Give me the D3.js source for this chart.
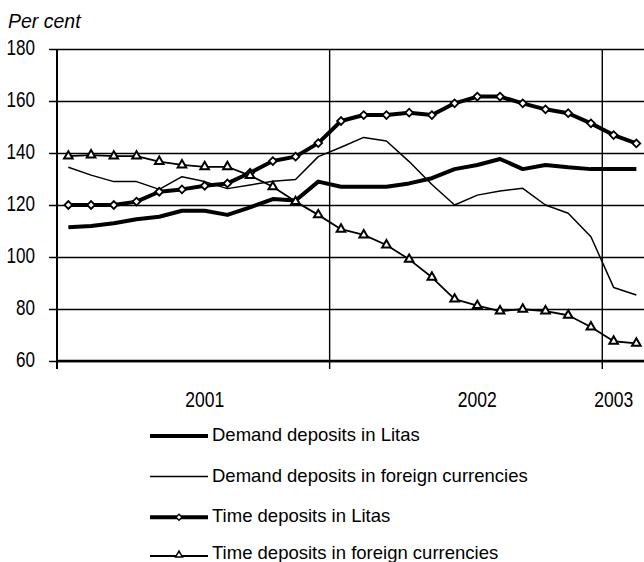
<!DOCTYPE html>
<html>
<head>
<meta charset="utf-8">
<script src="https://cdn.jsdelivr.net/npm/d3@7"></script>
<style>
  body { margin: 0; background: #fff; }
  svg { display: block; font-family: "Liberation Sans", Arial, sans-serif; }
</style>
</head>
<body>
<svg id="chart"></svg>
<script>
// Monthly categories, Jan 2001 - Feb 2003
const months = [
  "2001-01", "2001-02", "2001-03", "2001-04", "2001-05", "2001-06",
  "2001-07", "2001-08", "2001-09", "2001-10", "2001-11", "2001-12",
  "2002-01", "2002-02", "2002-03", "2002-04", "2002-05", "2002-06",
  "2002-07", "2002-08", "2002-09", "2002-10", "2002-11", "2002-12",
  "2003-01", "2003-02"
];

// Series values (per cent)
const demandLitas = [111.4, 111.9, 113.0, 114.5, 115.5, 117.8, 117.8, 116.2, 119.1, 122.3, 121.7, 129.0,
  127.0, 127.0, 127.0, 128.3, 130.3, 133.8, 135.4, 137.7, 133.8, 135.4, 134.5, 133.8, 133.8, 133.8];
const demandForeign = [134.5, 131.5, 129.0, 129.0, 126.0, 130.9, 129.0, 126.3, 127.7, 129.1, 129.8, 138.6,
  142.2, 146.0, 144.6, 136.7, 127.9, 120.0, 123.8, 125.4, 126.4, 120.0, 116.8, 107.8, 88.3, 85.4];
const timeLitas = [120.0, 120.0, 120.0, 121.3, 125.1, 126.0, 127.4, 128.3, 132.4, 136.9, 138.6, 143.8,
  152.3, 154.6, 154.6, 155.5, 154.6, 159.1, 161.7, 161.7, 159.1, 156.8, 155.3, 151.4, 146.9, 143.7];
const timeForeign = [138.8, 139.2, 138.8, 138.8, 136.7, 135.4, 134.7, 134.7, 131.3, 127.0, 121.3, 116.2,
  110.7, 108.5, 104.6, 99.1, 92.2, 83.8, 81.3, 79.2, 79.9, 79.2, 77.6, 73.1, 67.6, 66.8];

const yTicks = [60, 80, 100, 120, 140, 160, 180];
const yearLabels = ["2001", "2002", "2003"];
const yearLabelMonths = ["2001-07", "2002-07", "2003-01"];
const yearStartMonths = ["2002-01", "2003-01"];

const seriesNames = [
  "Demand deposits in Litas",
  "Demand deposits in foreign currencies",
  "Time deposits in Litas",
  "Time deposits in foreign currencies"
];

const width = 644;
const height = 562;
const plotLeft = 57;
const plotTop = 49;
const plotBottom = 361;
const bandW = 22.72; // width of one month on the category axis

const svg = d3.select("#chart")
  .attr("width", width)
  .attr("height", height);

svg.append("rect").attr("width", width).attr("height", height).attr("fill", "#fff");

const x = d3.scaleBand()
  .domain(months)
  .range([plotLeft, plotLeft + months.length * bandW])
  .padding(0);

const y = d3.scaleLinear()
  .domain([60, 180])
  .range([plotBottom, plotTop]);

const cx = m => x(m) + x.bandwidth() / 2;

// Horizontal gridlines + y ticks
const yAxis = d3.axisLeft(y)
  .tickValues(yTicks)
  .tickSize(-(width - plotLeft))
  .tickFormat("");

svg.append("g")
  .attr("transform", `translate(${plotLeft},0)`)
  .call(yAxis)
  .call(g => g.select(".domain").remove())
  .call(g => g.selectAll(".tick line")
    .attr("x1", -8)
    .attr("stroke", "#000")
    .attr("stroke-width", 1.4));

// Y tick labels (narrow, tall text)
svg.append("g")
  .selectAll("text")
  .data(yTicks)
  .join("text")
  .attr("transform", d => `translate(35,${y(d) + 5.5}) scale(0.76,1)`)
  .attr("text-anchor", "end")
  .attr("font-size", 22.5)
  .attr("fill", "#000")
  .text(d => d);

// Vertical gridlines at year starts
svg.append("g")
  .selectAll("line")
  .data(yearStartMonths)
  .join("line")
  .attr("x1", d => x(d))
  .attr("x2", d => x(d))
  .attr("y1", plotTop)
  .attr("y2", plotBottom + 8)
  .attr("stroke", "#000")
  .attr("stroke-width", 1.4);

// Left axis line and bottom axis line
svg.append("line")
  .attr("x1", plotLeft).attr("x2", plotLeft)
  .attr("y1", plotTop).attr("y2", plotBottom + 8)
  .attr("stroke", "#000").attr("stroke-width", 2);

svg.append("line")
  .attr("x1", plotLeft).attr("x2", width)
  .attr("y1", plotBottom).attr("y2", plotBottom)
  .attr("stroke", "#000").attr("stroke-width", 2.4);

// Year labels
svg.append("g")
  .selectAll("text")
  .data(yearLabels)
  .join("text")
  .attr("transform", (d, i) => `translate(${cx(yearLabelMonths[i])},406.5) scale(0.78,1)`)
  .attr("text-anchor", "middle")
  .attr("font-size", 22.5)
  .attr("fill", "#000")
  .text(d => d);

// Unit label
svg.append("text")
  .attr("x", 8)
  .attr("y", 28)
  .attr("font-size", 19.5)
  .attr("font-style", "italic")
  .attr("fill", "#000")
  .text("Per cent");

// Lines
const line = d3.line()
  .x((d, i) => cx(months[i]))
  .y(d => y(d));

const seriesData = [demandLitas, demandForeign, timeLitas, timeForeign];
const seriesWidth = [4, 1.5, 4, 1.8];

seriesData.forEach((vals, i) => {
  svg.append("path")
    .datum(vals)
    .attr("d", line)
    .attr("fill", "none")
    .attr("stroke", "#000")
    .attr("stroke-width", seriesWidth[i])
    .attr("stroke-linejoin", "round");
});

// Markers
const diamond = d3.symbol(d3.symbolSquare, 30)();
const triangle = d3.symbol(d3.symbolTriangle, 32)();

svg.append("g")
  .selectAll("path")
  .data(timeLitas)
  .join("path")
  .attr("d", diamond)
  .attr("transform", (d, i) => `translate(${cx(months[i])},${y(d)}) rotate(45)`)
  .attr("fill", "#fff")
  .attr("stroke", "#000")
  .attr("stroke-width", 1.8);

svg.append("g")
  .selectAll("path")
  .data(timeForeign)
  .join("path")
  .attr("d", triangle)
  .attr("transform", (d, i) => `translate(${cx(months[i])},${y(d)})`)
  .attr("fill", "#fff")
  .attr("stroke", "#000")
  .attr("stroke-width", 2);

// Legend
const legendLineY = [436, 476.5, 517.3, 556];
const legendTextY = [441, 481.5, 522.3, 559];
const legend = svg.append("g");

seriesNames.forEach((name, i) => {
  legend.append("line")
    .attr("x1", 150).attr("x2", 208)
    .attr("y1", legendLineY[i]).attr("y2", legendLineY[i])
    .attr("stroke", "#000")
    .attr("stroke-width", seriesWidth[i]);

  if (i === 2) {
    legend.append("path")
      .attr("d", d3.symbol(d3.symbolSquare, 18)())
      .attr("transform", `translate(179,${legendLineY[i]}) rotate(45)`)
      .attr("fill", "#fff").attr("stroke", "#000").attr("stroke-width", 1.4);
  }
  if (i === 3) {
    legend.append("path")
      .attr("d", d3.symbol(d3.symbolTriangle, 20)())
      .attr("transform", `translate(179,${legendLineY[i] - 1})`)
      .attr("fill", "#fff").attr("stroke", "#000").attr("stroke-width", 1.5);
  }

  legend.append("text")
    .attr("x", 212)
    .attr("y", legendTextY[i])
    .attr("font-size", 18.5)
    .attr("fill", "#000")
    .text(name);
});
</script>
</body>
</html>
